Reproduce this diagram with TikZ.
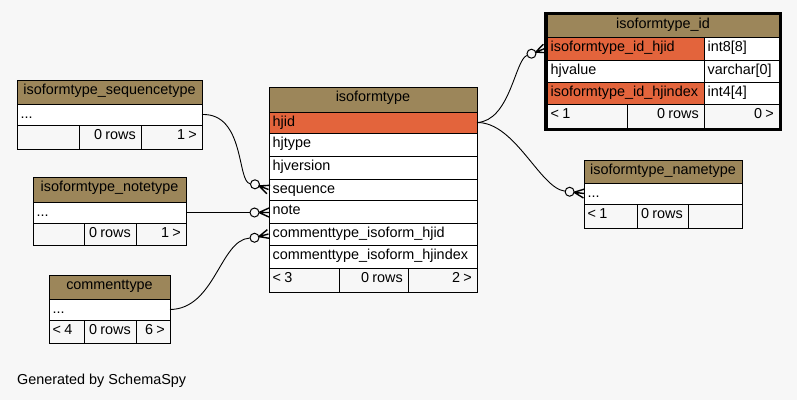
\documentclass[tikz,border=0pt]{standalone}
\usepackage{fontspec}
\setmainfont{Liberation Sans}
\definecolor{bg}{HTML}{F7F7F7}
\definecolor{hdr}{HTML}{9C865A}
\definecolor{keyc}{HTML}{E3643C}
\tikzset{
  cellbox/.style={draw=black, line width=1pt, inner sep=0pt, outer sep=0pt, anchor=north west},
  txt/.style={inner sep=0pt, font=\fontsize{14.4}{17}\selectfont, text=black},
  conn/.style={draw=black, line width=0.9pt},
  ring/.style={circle, draw=black, line width=1pt, fill=bg, minimum size=9pt, inner sep=0pt},
  crowline/.style={line width=1.4pt},
}
\newcommand\mkcell[6]{\node[cellbox, fill=#6, minimum width={(#4-#2)*1pt}, minimum height={(#5-#3)*1pt}] (#1) at (#2,#3) {};}
\newcommand\cellL[7]{\mkcell{#1}{#2}{#3}{#4}{#5}{#6}\node[txt, anchor=base west] (#1t) at ({#2+3.5},{#3+14.5}) {\spaceskip=0.22em\relax #7};}
\newcommand\cellR[7]{\mkcell{#1}{#2}{#3}{#4}{#5}{#6}\node[txt, anchor=base east] (#1t) at ({#4-5},{#3+14.5}) {\spaceskip=0.22em\relax #7};}
\newcommand\cellC[7]{\mkcell{#1}{#2}{#3}{#4}{#5}{#6}\node[txt, anchor=base] (#1t) at ({(#2+#4)/2},{#3+14.5}) {#7};}
\newcommand\crowend[4]{\begin{scope}[shift={(#2,#3)},rotate=#4]
  \draw[crowline] (-10,0) -- (0,-4.5) (-10,0) -- (0,0) (-10,0) -- (0,4.5);
  \node[ring] (#1) at (-14.5,0) {};
\end{scope}}
\begin{document}
\begin{tikzpicture}[x=1pt,y=-1pt]
\fill[bg] (0,0) rectangle (797,400);
\useasboundingbox (0,0) rectangle (797,400);

% isoformtype
\cellC{iso}{269}{87}{477}{112}{hdr}{isoformtype}
\cellL{isohjid}{269}{112}{477}{133}{keyc}{hjid}
\cellL{isohjtype}{269}{133}{477}{156}{white}{hjtype}
\cellL{isohjversion}{269}{156}{477}{179}{white}{hjversion}
\cellL{isoseq}{269}{179}{477}{200}{white}{sequence}
\cellL{isonote}{269}{200}{477}{223}{white}{note}
\cellL{isocth}{269}{223}{477}{245}{white}{commenttype\_isoform\_hjid}
\cellL{isocti}{269}{245}{477}{268}{white}{commenttype\_isoform\_hjindex}
\cellL{isof1}{269}{268}{339}{292}{bg}{< 3}
\cellR{isof2}{339}{268}{408}{292}{bg}{0 rows}
\cellR{isof3}{408}{268}{477}{292}{bg}{2 >}

% isoformtype_id
\cellC{idh}{547}{14}{779}{37}{hdr}{isoformtype\_id}
\cellL{idhjid}{547}{37}{704}{60}{keyc}{isoformtype\_id\_hjid}
\cellL{idhjidt}{704}{37}{779}{60}{white}{int8[8]}
\cellL{idval}{547}{60}{704}{82}{white}{hjvalue}
\cellL{idvalt}{704}{60}{779}{82}{white}{varchar[0]}
\cellL{idix}{547}{82}{704}{104}{keyc}{isoformtype\_id\_hjindex}
\cellL{idixt}{704}{82}{779}{104}{white}{int4[4]}
\cellL{idf1}{547}{104}{627}{128}{bg}{< 1}
\cellR{idf2}{627}{104}{704}{128}{bg}{0 rows}
\cellR{idf3}{704}{104}{779}{128}{bg}{0 >}
\draw[line width=2.6pt] (545.2,12.9) rectangle (780.6,130.1);

% isoformtype_nametype
\cellC{nmh}{584}{160}{742}{183}{hdr}{isoformtype\_nametype}
\cellL{nmrow}{584}{183}{742}{204}{white}{...}
\cellL{nmf1}{584}{204}{637}{228}{bg}{< 1}
\cellR{nmf2}{637}{204}{688}{228}{bg}{0 rows}
\mkcell{nmf3}{688}{204}{742}{228}{bg}

% isoformtype_sequencetype
\cellC{sqh}{17}{80}{202}{104}{hdr}{isoformtype\_sequencetype}
\cellL{sqrow}{17}{104}{202}{125}{white}{...}
\mkcell{sqf1}{17}{125}{79}{149}{bg}
\cellR{sqf2}{79}{125}{141}{149}{bg}{0 rows}
\cellR{sqf3}{141}{125}{202}{149}{bg}{1 >}

% isoformtype_notetype
\cellC{nth}{33}{177}{186}{202}{hdr}{isoformtype\_notetype}
\cellL{ntrow}{33}{202}{186}{223}{white}{...}
\mkcell{ntf1}{33}{223}{84}{245}{bg}
\cellR{ntf2}{84}{223}{136}{245}{bg}{0 rows}
\cellR{ntf3}{136}{223}{186}{245}{bg}{1 >}

% commenttype
\cellC{cth}{49}{275}{170}{299}{hdr}{commenttype}
\cellL{ctrow}{49}{299}{170}{320}{white}{...}
\cellL{ctf1}{49}{320}{84}{343}{bg}{< 4}
\cellR{ctf2}{84}{320}{136}{343}{bg}{0 rows}
\cellR{ctf3}{136}{320}{170}{343}{bg}{6 >}

% crow's foot ends
\crowend{cseq}{268.5}{189.5}{-21}
\crowend{cnote}{269}{212.5}{0}
\crowend{ccom}{268.5}{234}{15}
\crowend{cid}{545}{48.5}{21}
\crowend{cnm}{584}{193.5}{-7}

% connectors
\draw[conn] (sqrow.east) .. controls (245,113) and (237,182) .. (cseq);
\draw[conn] (ntrow.east) -- (cnote);
\draw[conn] (ctrow.east) .. controls (215,309) and (220,240) .. (ccom);
\draw[conn] (isohjid.east) .. controls (510,121) and (515,60) .. (cid);
\draw[conn] (isohjid.east) .. controls (515,122) and (540,188) .. (cnm);

\node[txt, anchor=base west] (gen) at (17,384) {Generated by SchemaSpy};
\end{tikzpicture}
\end{document}
